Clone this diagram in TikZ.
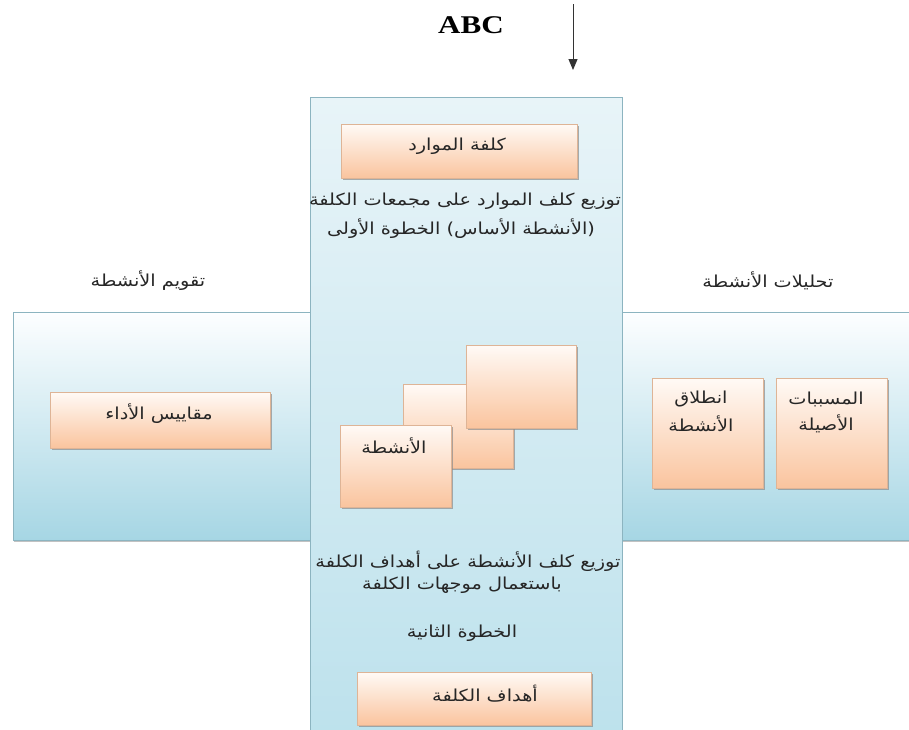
\documentclass[tikz,border=0pt]{standalone}
\usepackage{fontspec}
\setmainfont{Liberation Serif}
\newfontfamily\arabicfont[Script=Arabic,FakeStretch=1.17]{DejaVu Sans}
\TeXXeTstate=1
\usetikzlibrary{shadows,arrows.meta}
\definecolor{bandTop}{RGB}{253,254,255}
\definecolor{bandBot}{RGB}{166,214,228}
\definecolor{centTop}{RGB}{232,244,248}
\definecolor{centBot}{RGB}{188,225,236}
\definecolor{panelLine}{RGB}{140,180,192}
\definecolor{boxTop}{RGB}{255,250,246}
\definecolor{boxBot}{RGB}{250,196,158}
\definecolor{boxLine}{RGB}{222,180,150}
\newcommand{\artxt}[1]{{\arabicfont\beginR #1\endR}}
\begin{document}
\begin{tikzpicture}[x=1pt,y=-1pt,
  panel/.style={draw=panelLine, line width=0.8pt, inner sep=0pt,
    drop shadow={shadow xshift=1pt, shadow yshift=-2pt, fill=black!40, opacity=.6}},
  obox/.style={draw=boxLine, line width=0.6pt, top color=boxTop, bottom color=boxBot, inner sep=0pt,
    drop shadow={shadow xshift=2pt, shadow yshift=-2pt, fill=black!45, opacity=.7}},
  atext/.style={font=\arabicfont\fontsize{16.5}{19}\selectfont, inner sep=0pt, text=black!85}]
\path[use as bounding box] (0,0) rectangle (909,729);
\clip (0,0) rectangle (909,729);
% panels
\node[panel, top color=bandTop, bottom color=bandBot, minimum width=902, minimum height=228] (band) at (464,426) {};
\node[panel, top color=centTop, bottom color=centBot, minimum width=312, minimum height=650] (cent) at (466,422) {};
% title and arrow
\node[font=\bfseries\fontsize{25.5}{28}\selectfont, inner sep=0pt] (abc) at (471,25) {\scalebox{1.22}[1]{ABC}};
\coordinate (arrTop) at (573,4);
\coordinate (arrEnd) at (573,70);
\draw[-{Triangle[length=11pt,width=9pt]}, line width=1pt, black!80] (arrTop) -- (arrEnd);
% band titles
\node[atext] (evalT) at (148,281) {\artxt{تقويم الأنشطة}};
\node[atext] (analT) at (768,281) {\artxt{تحليلات الأنشطة}};
% resources
\node[obox, minimum width=236, minimum height=54] (res) at (459,151) {};
\node[atext] (resT) at (457,146) {\artxt{كلفة الموارد}};
\node[atext] (s1a) at (465,201) {\artxt{توزيع كلف الموارد على مجمعات الكلفة}};
\node[atext] (s1b) at (461,229) {\artxt{(الأنشطة الأساس) الخطوة الأولى}};
% performance
\node[obox, minimum width=220, minimum height=56] (perf) at (160,420) {};
\node[atext] (perfT) at (159,414) {\artxt{مقاييس الأداء}};
% right boxes
\node[obox, minimum width=111, minimum height=110] (launch) at (707.5,433) {};
\node[atext] (launchA) at (701,399) {\artxt{انطلاق}};
\node[atext] (launchB) at (701,424) {\artxt{الأنشطة}};
\node[obox, minimum width=111, minimum height=110] (root) at (831.5,433) {};
\node[atext] (rootA) at (826,399) {\artxt{المسببات}};
\node[atext] (rootB) at (826,424) {\artxt{الأصيلة}};
% activities stack
\node[obox, minimum width=110, minimum height=84] (actMid) at (458,426) {};
\node[obox, minimum width=110, minimum height=83] (actBack) at (521,386.5) {};
\node[obox, minimum width=111, minimum height=82] (actFront) at (395.5,466) {};
\node[atext] (actT) at (394,446) {\artxt{الأنشطة}};
% second step
\node[atext] (s2a) at (468,561) {\artxt{توزيع كلف الأنشطة على أهداف الكلفة}};
\node[atext] (s2b) at (462,585) {\artxt{باستعمال موجهات الكلفة}};
\node[atext] (s2c) at (462,633) {\artxt{الخطوة الثانية}};
% cost objects
\node[obox, minimum width=234, minimum height=53] (obj) at (474,698.5) {};
\node[atext] (objT) at (485,694) {\artxt{أهداف الكلفة}};
\end{tikzpicture}
\end{document}
